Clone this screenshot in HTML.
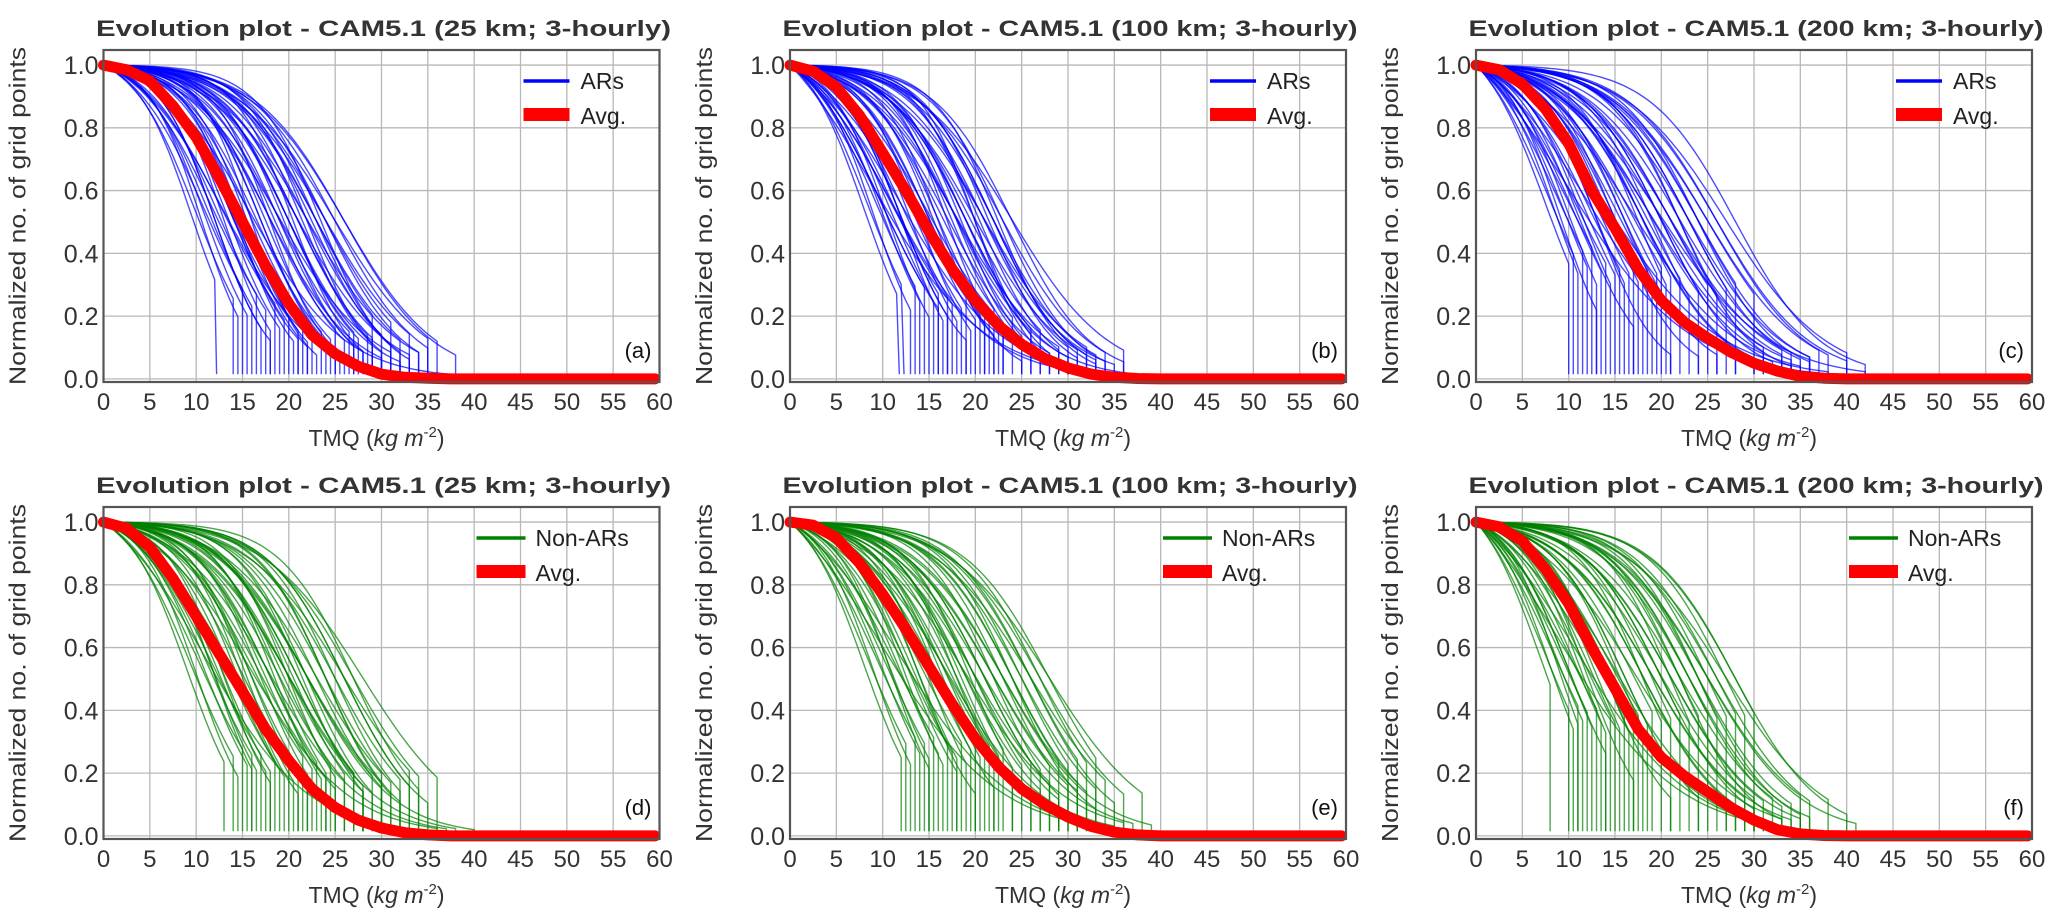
<!DOCTYPE html>
<html><head><meta charset="utf-8"><style>
html,body{margin:0;padding:0;background:#fff;}
svg{display:block;font-family:"Liberation Sans","DejaVu Sans",sans-serif;}
</style></head><body>
<svg id="fig" width="2067" height="924" viewBox="0 0 2067 924" xmlns="http://www.w3.org/2000/svg"></svg>
<script>
// ---------- data ----------
const xTicks = [0,5,10,15,20,25,30,35,40,45,50,55,60];
const yTicks = [0.0,0.2,0.4,0.6,0.8,1.0];
const avgX = [0,2.5,5,7.5,10,12.5,15,17.5,20,22.5,25,27.5,30,32.5,35,37.5,40,45,50,55,59.5];
const avgA = [1,0.985,0.95,0.87,0.77,0.64,0.5,0.36,0.24,0.14,0.08,0.04,0.015,0.005,0.002,0,0,0,0,0,0];
const avgB = [1,0.98,0.93,0.84,0.72,0.6,0.47,0.35,0.25,0.17,0.11,0.065,0.035,0.015,0.005,0.001,0,0,0,0,0];
const avgC = [1,0.985,0.94,0.86,0.75,0.6,0.48,0.35,0.25,0.18,0.13,0.085,0.05,0.025,0.008,0.002,0,0,0,0,0];
const avgD = [1,0.98,0.92,0.82,0.7,0.58,0.46,0.34,0.24,0.15,0.09,0.05,0.025,0.01,0.003,0,0,0,0,0,0];
const avgE = [1,0.99,0.95,0.87,0.77,0.66,0.54,0.42,0.31,0.22,0.15,0.1,0.06,0.03,0.012,0.003,0,0,0,0,0];
const avgF = [1,0.985,0.94,0.85,0.74,0.6,0.47,0.34,0.25,0.19,0.14,0.09,0.05,0.02,0.006,0.001,0,0,0,0,0];

const midsA = [9.5,10,10.5,11,11,11.5,12,12,12.5,13,13,13.5,14,14,14.5,15,15,15.5,16,16,16.5,17,17.5,18,18,18.5,19,19.5,20,20.5,21,21.5,22,22.5,23,23.5,24,25,16,13,
               18,19,20,21,22,23,24,25,26,17,15,14,12,20,22,24,19,21,23,26];
const widsA = [3,3.5,2.8,4,3.2,3.6,4.2,3,3.8,2.9,4.5,3.3,3.7,4.1,3,3.5,4.4,3.2,3.9,2.8,4,3.4,3.6,4.2,3.1,3.8,4.3,3.5,3.9,3.2,4.1,3.6,3.4,4,3.8,3.5,4.2,4.5,5,4.8,
               4.5,5,4.2,4.8,5,4.4,4.6,5.2,4.8,3.5,3.2,3.6,3,4,4.4,5,3.8,4.2,4.6,5];
const cutsA = [12.2,14,14.5,15,15.5,16,16.5,17,17.5,18,18.5,19,19.5,20,20.5,21,21.5,22,22.5,23,23.5,24,24.5,25,25.5,26,26.5,27,27.5,28,28.5,29,30,31,32,33,34,35,41,39,
               30,31,32,33,34,29,31,35,38,25,22,21,18,27,30,33,28,29,32,36];

const midsB = [8,8.5,9,9.5,10,10,10.5,11,11.5,12,12,12.5,13,13.5,14,14,14.5,15,15.5,16,16.5,17,17.5,18,18.5,19,19.5,20,20.5,21,21.5,22,22.5,23,24,12,15,18,9,11,
               17,18,19,20,21,22,23,24,14,13,12,16,18,20,22,10,11,15,19,21];
const widsB = [3.2,3.6,3,4,3.4,4.4,3.1,3.8,4.2,3,3.5,4.1,3.3,3.9,4.5,3.2,3.7,4,3.4,3.8,4.3,3.1,3.6,4.2,3.5,3.9,4.4,3.3,3.7,4.1,3.6,4,3.5,3.9,4.2,5.5,5,4.6,6,5.2,
               4.5,5,4.2,4.8,5,4.4,4.6,5.2,4.8,5.4,3.5,3.2,3.6,3,4,4.4,5,3.8,4.2,4.6];
const cutsB = [11.8,12.3,13,13.5,14,14.5,15,15.5,16,16.5,17,17.5,18,18.5,19,19.5,20,20.5,21,21.5,22,22.5,23,24,25,26,27,28,29,30,31,32,33,34,36,37,38,40,35,33,
               28,29,30,31,32,33,34,36,23,21,19,25,27,30,33,16,17,22,26,35];

const midsC = [7.5,8,8.5,9,9.5,10,10,10.5,11,11.5,12,12.5,13,13.5,14,14.5,15,15.5,16,16.5,17,17.5,18,18.5,19,20,21,22,23,24,25,21,19,17,23,12,14,10,26,20,
               18,19,20,21,22,23,24,25,26,27,15,13,11,9,16,18,20,22,24,28];
const widsC = [3.5,4,3.2,4.4,3.6,4.8,3.3,4,4.5,3.4,3.9,4.3,3.5,4.1,4.6,3.6,4,4.4,3.7,4.2,4.7,3.5,4,4.5,3.8,4.2,4.6,4,4.4,4.8,5,5.2,5.4,5.6,5,6,6.2,6.5,5,5.8,
               4.5,5,4.2,4.8,5,4.4,4.6,5.2,4.8,5.4,3.5,3.2,3.6,3,4,4.4,5,3.8,4.2,4.6];
const cutsC = [10,10.5,11,11.5,12,12.5,13,13.5,14,14.5,15,15.5,16,16.5,17,17.5,18,18.5,19,19.5,20,20.5,21,22,23,24,25,26,27,28,30,33,34,35,36,37,38,39,40,42,
               30,31,32,33,34,35,36,37,38,40,24,21,17,13,26,28,31,34,36,42];

const midsD = [9,9.5,10,10.5,11,11.5,12,12,12.5,13,13.5,14,14.5,15,15.5,16,16.5,17,17.5,18,18.5,19,19.5,20,20.5,21,21.5,22,23,24,25,26,27,14,16,18,20,22,11,13,
               19,20,21,22,23,24,25,26,27,28,16,15,13,12,18,20,22,24,26,17];
const widsD = [3.2,3.8,3,4.2,3.5,4,3.3,4.4,3.6,3.1,4.1,3.7,3.4,4.3,3.2,3.9,4.5,3.5,3.8,4.2,3.3,3.6,4,3.4,3.9,4.3,3.6,3.8,4.1,3.7,3.9,4.2,4,5,5.3,5,4.8,4.6,5.5,5.2,
               4.5,5,4.2,4.8,5,4.4,4.6,5.2,4.8,5.4,3.5,3.2,3.6,3,4,4.4,5,3.8,4.2,4.6];
const cutsD = [13,14,14.5,15,15.5,16,16.5,17,17.5,18,18.5,19,19.5,20,20.5,21,21.5,22,22.5,23,23.5,24,24.5,25,26,27,28,29,30,31,32,33,34,35,36,37,38,40,30,28,
               26,27,28,29,30,31,32,33,34,36,22,21,18,16,25,28,30,32,35,24];

const midsE = [8,8.5,9,9.5,10,10.5,11,11.5,12,12.5,13,13.5,14,14.5,15,15.5,16,16.5,17,17.5,18,18.5,19,19.5,20,21,22,23,24,25,26,27,28,15,17,19,21,23,12,10,
               19,20,21,22,23,24,25,26,27,28,16,14,13,11,18,20,22,24,26,17];
const widsE = [3.3,3.9,3.1,4.3,3.6,4.1,3.4,4.5,3.7,3.2,4.2,3.8,3.5,4.4,3.3,4,4.6,3.6,3.9,4.3,3.4,3.7,4.1,3.5,4,4.2,3.8,4,4.3,4.1,4.4,4.2,4.5,5.5,5.2,5.4,5,4.8,6,6.3,
               4.5,5,4.2,4.8,5,4.4,4.6,5.2,4.8,5.4,3.5,3.2,3.6,3,4,4.4,5,3.8,4.2,4.6];
const cutsE = [12,12.5,13,13.5,14,14.5,15,15.5,16,16.5,17,17.5,18,18.5,19,19.5,20,20.5,21,21.5,22,22.5,23,24,25,26,27,28,29,30,31,32,33,34,35,36,37,39,40,42,
               27,28,29,30,31,32,33,34,36,38,22,20,18,15,26,29,31,33,35,24];

const midsF = [7,7.5,8,8.5,9,9.5,10,10.5,11,11.5,12,12.5,13,13.5,14,14.5,15,15.5,16,17,18,19,20,21,22,23,24,25,26,27,28,13,15,17,19,21,23,11,9,25,
               18,19,20,21,22,23,24,25,26,27,14,12,10,9,16,18,20,22,24,28];
const widsF = [3.4,4,3.2,4.4,3.7,4.2,3.5,4.6,3.8,3.3,4.3,3.9,3.6,4.5,3.4,4.1,4.7,3.7,4,4.4,3.5,3.8,4.2,3.6,4.1,4.3,3.9,4.1,4.4,4.2,4.5,5.6,5.3,5.5,5.1,4.9,4.7,6.1,6.4,5,
               4.5,5,4.2,4.8,5,4.4,4.6,5.2,4.8,5.4,3.5,3.2,3.6,3,4,4.4,5,3.8,4.2,4.6];
const cutsF = [8,10,10.5,11,11.5,12,12.5,13,13.5,14,14.5,15,15.5,16,16.5,17,17.5,18,18.5,19,20,21,22,23,24,25,26,27,28,29,30,31,32,33,34,35,36,37,39,41,
               28,29,30,31,32,33,34,35,36,38,21,17,14,11,24,27,30,33,35,40];

const titles = ["Evolution plot - CAM5.1 (25 km; 3-hourly)","Evolution plot - CAM5.1 (100 km; 3-hourly)","Evolution plot - CAM5.1 (200 km; 3-hourly)"];
const panelLetters = ["(a)","(b)","(c)","(d)","(e)","(f)"];
const seriesNames = ["ARs","ARs","ARs","Non-ARs","Non-ARs","Non-ARs"];

// ---------- drawing ----------
const NS = "http://www.w3.org/2000/svg";
const svg = document.getElementById("fig");
const LEFTS = [103.5, 790, 1476], TOPS = [50, 507];
const W = 556, H = 332, XMIN = 0, XMAX = 60, YMIN = -0.01, YMAX = 1.048;
function mk(tag, attrs, parent){const e=document.createElementNS(NS,tag);for(const k in attrs)e.setAttribute(k,attrs[k]);(parent||svg).appendChild(e);return e;}

const panels = [
 {avg:avgA,mids:midsA,wids:widsA,cuts:cutsA,col:"#0000ff"},
 {avg:avgB,mids:midsB,wids:widsB,cuts:cutsB,col:"#0000ff"},
 {avg:avgC,mids:midsC,wids:widsC,cuts:cutsC,col:"#0000ff"},
 {avg:avgD,mids:midsD,wids:widsD,cuts:cutsD,col:"#008000"},
 {avg:avgE,mids:midsE,wids:widsE,cuts:cutsE,col:"#008000"},
 {avg:avgF,mids:midsF,wids:widsF,cuts:cutsF,col:"#008000"}
];

panels.forEach((p, i) => {
  const L = LEFTS[i%3], T = TOPS[Math.floor(i/3)];
  const xs = v => L + (v - XMIN) / (XMAX - XMIN) * W;
  const ys = v => T + (YMAX - v) / (YMAX - YMIN) * H;
  const g = mk("g", {});
  
  

  const title = mk("text", {x: L + W/2 + 2, y: T - 14, "text-anchor":"middle", "font-size":22, "font-weight":"bold", fill:"#333", textLength:575, lengthAdjust:"spacingAndGlyphs"}, g);
  title.textContent = titles[i%3];
  
  

  xTicks.forEach(t => {
    const l = mk("line", {x1:xs(t), x2:xs(t), y1:T, y2:T+H, stroke:"#b8b8b8", "stroke-width":1.3}, g);
    
    
    const tx = mk("text", {x:xs(t), y:T+H+28, "text-anchor":"middle", "font-size":24, fill:"#333"}, g);
    tx.textContent = t;
    
    
  });
  yTicks.forEach(t => {
    const l = mk("line", {x1:L, x2:L+W, y1:ys(t), y2:ys(t), stroke:"#b8b8b8", "stroke-width":1.3}, g);
    
    
    const ty = mk("text", {x:L-5, y:ys(t)+9, "text-anchor":"end", "font-size":25, fill:"#333"}, g);
    ty.textContent = t.toFixed(1);
    
    
  });

  p.mids.forEach((m, k) => {
    const w = p.wids[k], c = p.cuts[k];
    const s0 = 1/(1+Math.exp((0-m)/w));
    let d = "";
    for (let x = 0; x <= c + 1e-9; x += 0.5) {
      const v = (1/(1+Math.exp((x-m)/w)))/s0;
      d += (x===0?"M":"L") + xs(x).toFixed(1) + "," + ys(Math.min(1,v)).toFixed(1);
    }
    d += "L" + xs(c).toFixed(1) + "," + ys(0.015).toFixed(1);
    const path = mk("path", {d:d, fill:"none", stroke:p.col, "stroke-width":1.4, "stroke-opacity":0.7}, g);
    
    
  });

  let da = "";
  avgX.forEach((x, k) => { da += (k===0?"M":"L") + xs(x).toFixed(1) + "," + ys(p.avg[k]).toFixed(1); });
  const avg = mk("path", {d:da, fill:"none", stroke:"#ff0000", "stroke-width":11, "stroke-linejoin":"round", "stroke-linecap":"round"}, g);
  
  

  const fr = mk("rect", {x:L, y:T, width:W, height:H, fill:"none", stroke:"#555", "stroke-width":2.2}, g);
  
  

  const green = i >= 3;
  const lx1 = green ? L+373 : L+420, lx2 = green ? L+422 : L+466, tx = green ? L+432 : L+477;
  const ll = mk("line", {x1:lx1, x2:lx2, y1:T+31, y2:T+31, stroke:p.col, "stroke-width":3.5}, g);
  
  
  const lt = mk("text", {x:tx, y:T+39, "font-size":23, fill:"#222"}, g);
  lt.textContent = seriesNames[i];
  
  
  const lr = mk("rect", {x:lx1, y:T+58, width:lx2-lx1, height:13, fill:"#ff0000"}, g);
  
  
  const la = mk("text", {x:tx, y:T+74, "font-size":23, fill:"#222"}, g);
  la.textContent = "Avg.";
  
  

  const pl = mk("text", {x:L+W-8, y:T+H-24, "text-anchor":"end", "font-size":22, fill:"#111"}, g);
  pl.textContent = panelLetters[i];
  
  

  const yt = mk("text", {x:0, y:0, "text-anchor":"middle", "font-size":23, fill:"#333", transform:"translate("+(L-78)+","+(T+H/2)+") rotate(-90)", textLength:338, lengthAdjust:"spacingAndGlyphs"}, g);
  yt.textContent = "Normalized no. of grid points";
  
  
  const xt = mk("text", {x:L+W/2-5, y:T+H+64, "text-anchor":"middle", "font-size":23, fill:"#333"}, g);
  xt.innerHTML = 'TMQ (<tspan font-style="italic">kg m</tspan><tspan font-size="15" dy="-9">-2</tspan><tspan dy="9">)</tspan>';
  
  
});
</script>
</body></html>
